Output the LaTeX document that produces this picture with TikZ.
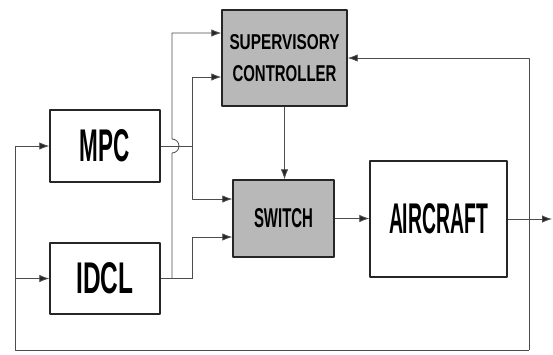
\documentclass[tikz,border=0pt]{standalone}
\usepackage{fontspec}
\setmainfont{Liberation Sans}
\usetikzlibrary{arrows.meta}

% label squeezed to the given width and cap height
\newcommand{\boxlabel}[3]{\resizebox{#1pt}{#2pt}{\bfseries #3}}

\begin{document}
\begin{tikzpicture}[x=1pt, y=-1pt, >={Latex[length=10pt,width=7.5pt,fill=black!85]}, line join=round,
	block/.style={draw=black!85, line width=1.4pt, inner sep=0pt},
	shaded/.style={block, fill=black!28},
	wire/.style={draw=black!70, line width=0.8pt}]
	\useasboundingbox (0,0) rectangle (553,354);
	
	% 1. Blocks
	\node[shaded, minimum width=125pt, minimum height=96pt, align=center,
	font=\fontsize{20}{32}\selectfont] (sup) at (284.5,58)
	{\boxlabel{110}{15}{SUPERVISORY}\\\boxlabel{104}{16}{CONTROLLER}};
	\node[block, minimum width=110pt, minimum height=72pt] (mpc) at (105,146) {\boxlabel{50}{32}{MPC}};
	\node[block, minimum width=110pt, minimum height=71pt] (idcl) at (105,278.5) {\boxlabel{57}{31}{IDCL}};
	\node[shaded, minimum width=101pt, minimum height=77pt] (sw) at (283.5,218.5) {\boxlabel{59}{19}{SWITCH}};
	\node[block, minimum width=137pt, minimum height=116pt] (ac) at (438.5,219) {\boxlabel{99}{30}{AIRCRAFT}};
	
	% 2. Routing columns of the wires
	\coordinate (mpcv) at (192,0);  % MPC branch
	\coordinate (idclv) at (172,0); % IDCL branch
	\coordinate (fbr) at (529,0);   % feedback, right side
	\coordinate (fbl) at (15,0);    % feedback, left side
	\coordinate (fbb) at (0,350);   % feedback, bottom
	\coordinate (outx) at (552,0);  % plant output
	
	% 3. MPC to supervisor and switch
	\draw[wire,->] (mpc.east) -| ([yshift=-19pt]sup.west -| mpcv) -- ([yshift=-19pt]sup.west);
	\draw[wire,->] (mpc.east -| mpcv) |- ([yshift=19.5pt]sw.west);
	
	% 4. IDCL to supervisor (hopping over the MPC wire) and switch
	\draw[wire] (idcl.east) -- (idcl.east -| mpcv);
	\draw[wire,->] (idcl.east -| mpcv) |- ([yshift=-18.5pt]sw.west);
	\draw[wire,->] (idcl.east -| idclv) -- ([yshift=-7pt]mpc.east -| idclv)
	arc[start angle=-90, end angle=90, radius=7pt] |- ([yshift=25pt]sup.west);
	
	% 5. Supervisor, switch, aircraft
	\draw[wire,->] (sup.south) -- (sup.south |- sw.north);
	\draw[wire,->] (sw.east) -- (sw.east -| ac.west);
	\draw[wire,->] (ac.east) -- (ac.east -| outx);
	
	% 6. Feedback loops
	\draw[wire,->] (fbr |- fbb) |- (sup.east);
	\draw[wire] (fbr |- fbb) -| (fbl |- mpc.west);
	\draw[wire,->] (fbl |- mpc.west) -- (mpc.west);
	\draw[wire,->] (fbl |- idcl.west) -- (idcl.west);
	
\end{tikzpicture}
\end{document}
